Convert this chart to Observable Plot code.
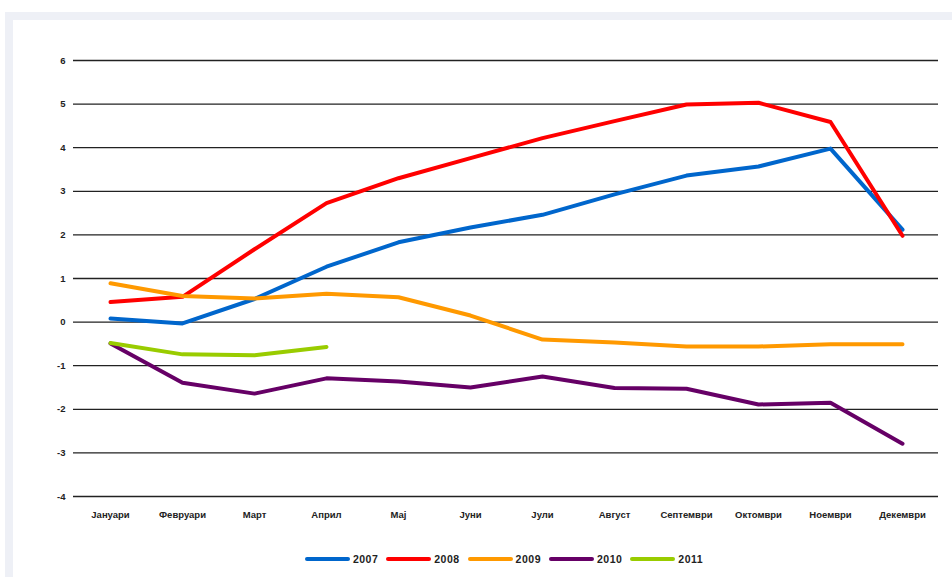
<!DOCTYPE html>
<html>
<head>
<meta charset="utf-8">
<script src="https://cdn.jsdelivr.net/npm/d3@7"></script>
<script src="https://cdn.jsdelivr.net/npm/@observablehq/plot@0.6"></script>
<style>
  html, body { margin: 0; padding: 0; background: #ffffff; width: 952px; height: 577px; overflow: hidden; font-family: "Liberation Sans", Arial, sans-serif; }
  #frame { position: absolute; left: 5px; top: 12px; width: 947px; height: 565px; background: #eef0f6; }
  #panel { position: absolute; left: 13px; top: 20px; width: 939px; height: 557px; background: #ffffff; }
  #chart { position: absolute; left: 0; top: 0; }
  #legend { position: absolute; left: 0; top: 553px; width: 952px; display: flex; justify-content: center; padding-left: 56px; box-sizing: border-box; gap: 8px; font-size: 10.5px; font-weight: bold; color: #222; letter-spacing: 0.5px; }
  .item { display: flex; align-items: center; gap: 3px; }
  .sw { width: 45px; height: 4px; border-radius: 2px; }
</style>
</head>
<body>
<div id="frame"></div>
<div id="panel"></div>
<div id="chart"></div>
<div id="legend"></div>
<script>
const months = ["Јануари","Февруари","Март","Април","Мај","Јуни","Јули","Август","Септември","Октомври","Ноември","Декември"];
const years = ["2007","2008","2009","2010","2011"];
const colors = ["#0066cc","#ff0000","#ff9900","#660066","#99cc00"];
const yTicks = [-4,-3,-2,-1,0,1,2,3,4,5,6];
const v2007 = [0.08,-0.03,0.53,1.27,1.83,2.17,2.46,2.93,3.36,3.57,3.98,2.12];
const v2008 = [0.46,0.58,1.67,2.73,3.30,3.76,4.22,4.61,4.99,5.03,4.59,1.98];
const v2009 = [0.89,0.60,0.54,0.65,0.57,0.15,-0.40,-0.47,-0.56,-0.56,-0.51,-0.51];
const v2010 = [-0.49,-1.39,-1.64,-1.29,-1.36,-1.50,-1.25,-1.51,-1.53,-1.89,-1.85,-2.79];
const v2011 = [-0.48,-0.74,-0.76,-0.57];

const series = [v2007, v2008, v2009, v2010, v2011];
const data = [];
series.forEach((vals, i) => vals.forEach((v, j) => data.push({year: years[i], month: months[j], value: v})));

const chart = Plot.plot({
  width: 952,
  height: 530,
  marginLeft: 73,
  marginRight: 14,
  marginTop: 60,
  marginBottom: 34,
  style: {background: "transparent", fontFamily: "'Liberation Sans', Arial, sans-serif", color: "#222"},
  x: {type: "point", domain: months, padding: 0.5},
  y: {domain: [-4, 6]},
  color: {domain: years, range: colors},
  marks: [
    Plot.ruleY(yTicks, {stroke: "#222", strokeWidth: 1.3}),
    Plot.axisY({ticks: yTicks, tickSize: 0, tickPadding: 8, fontSize: 9.5, fontWeight: "bold", label: null, tickFormat: d => String(d).replace("−","-")}),
    Plot.axisX({tickSize: 0, tickPadding: 15, fontSize: 9.5, fontWeight: "bold", label: null}),
    Plot.line(data, {x: "month", y: "value", z: "year", stroke: "year", strokeWidth: 4, strokeLinejoin: "round", strokeLinecap: "round"})
  ]
});
document.getElementById("chart").appendChild(chart);

const legend = document.getElementById("legend");
years.forEach((y, i) => {
  const it = document.createElement("div");
  it.className = "item";
  const sw = document.createElement("div");
  sw.className = "sw";
  sw.style.background = colors[i];
  const lb = document.createElement("span");
  lb.textContent = y;
  it.appendChild(sw); it.appendChild(lb);
  legend.appendChild(it);
});
</script>
</body>
</html>
